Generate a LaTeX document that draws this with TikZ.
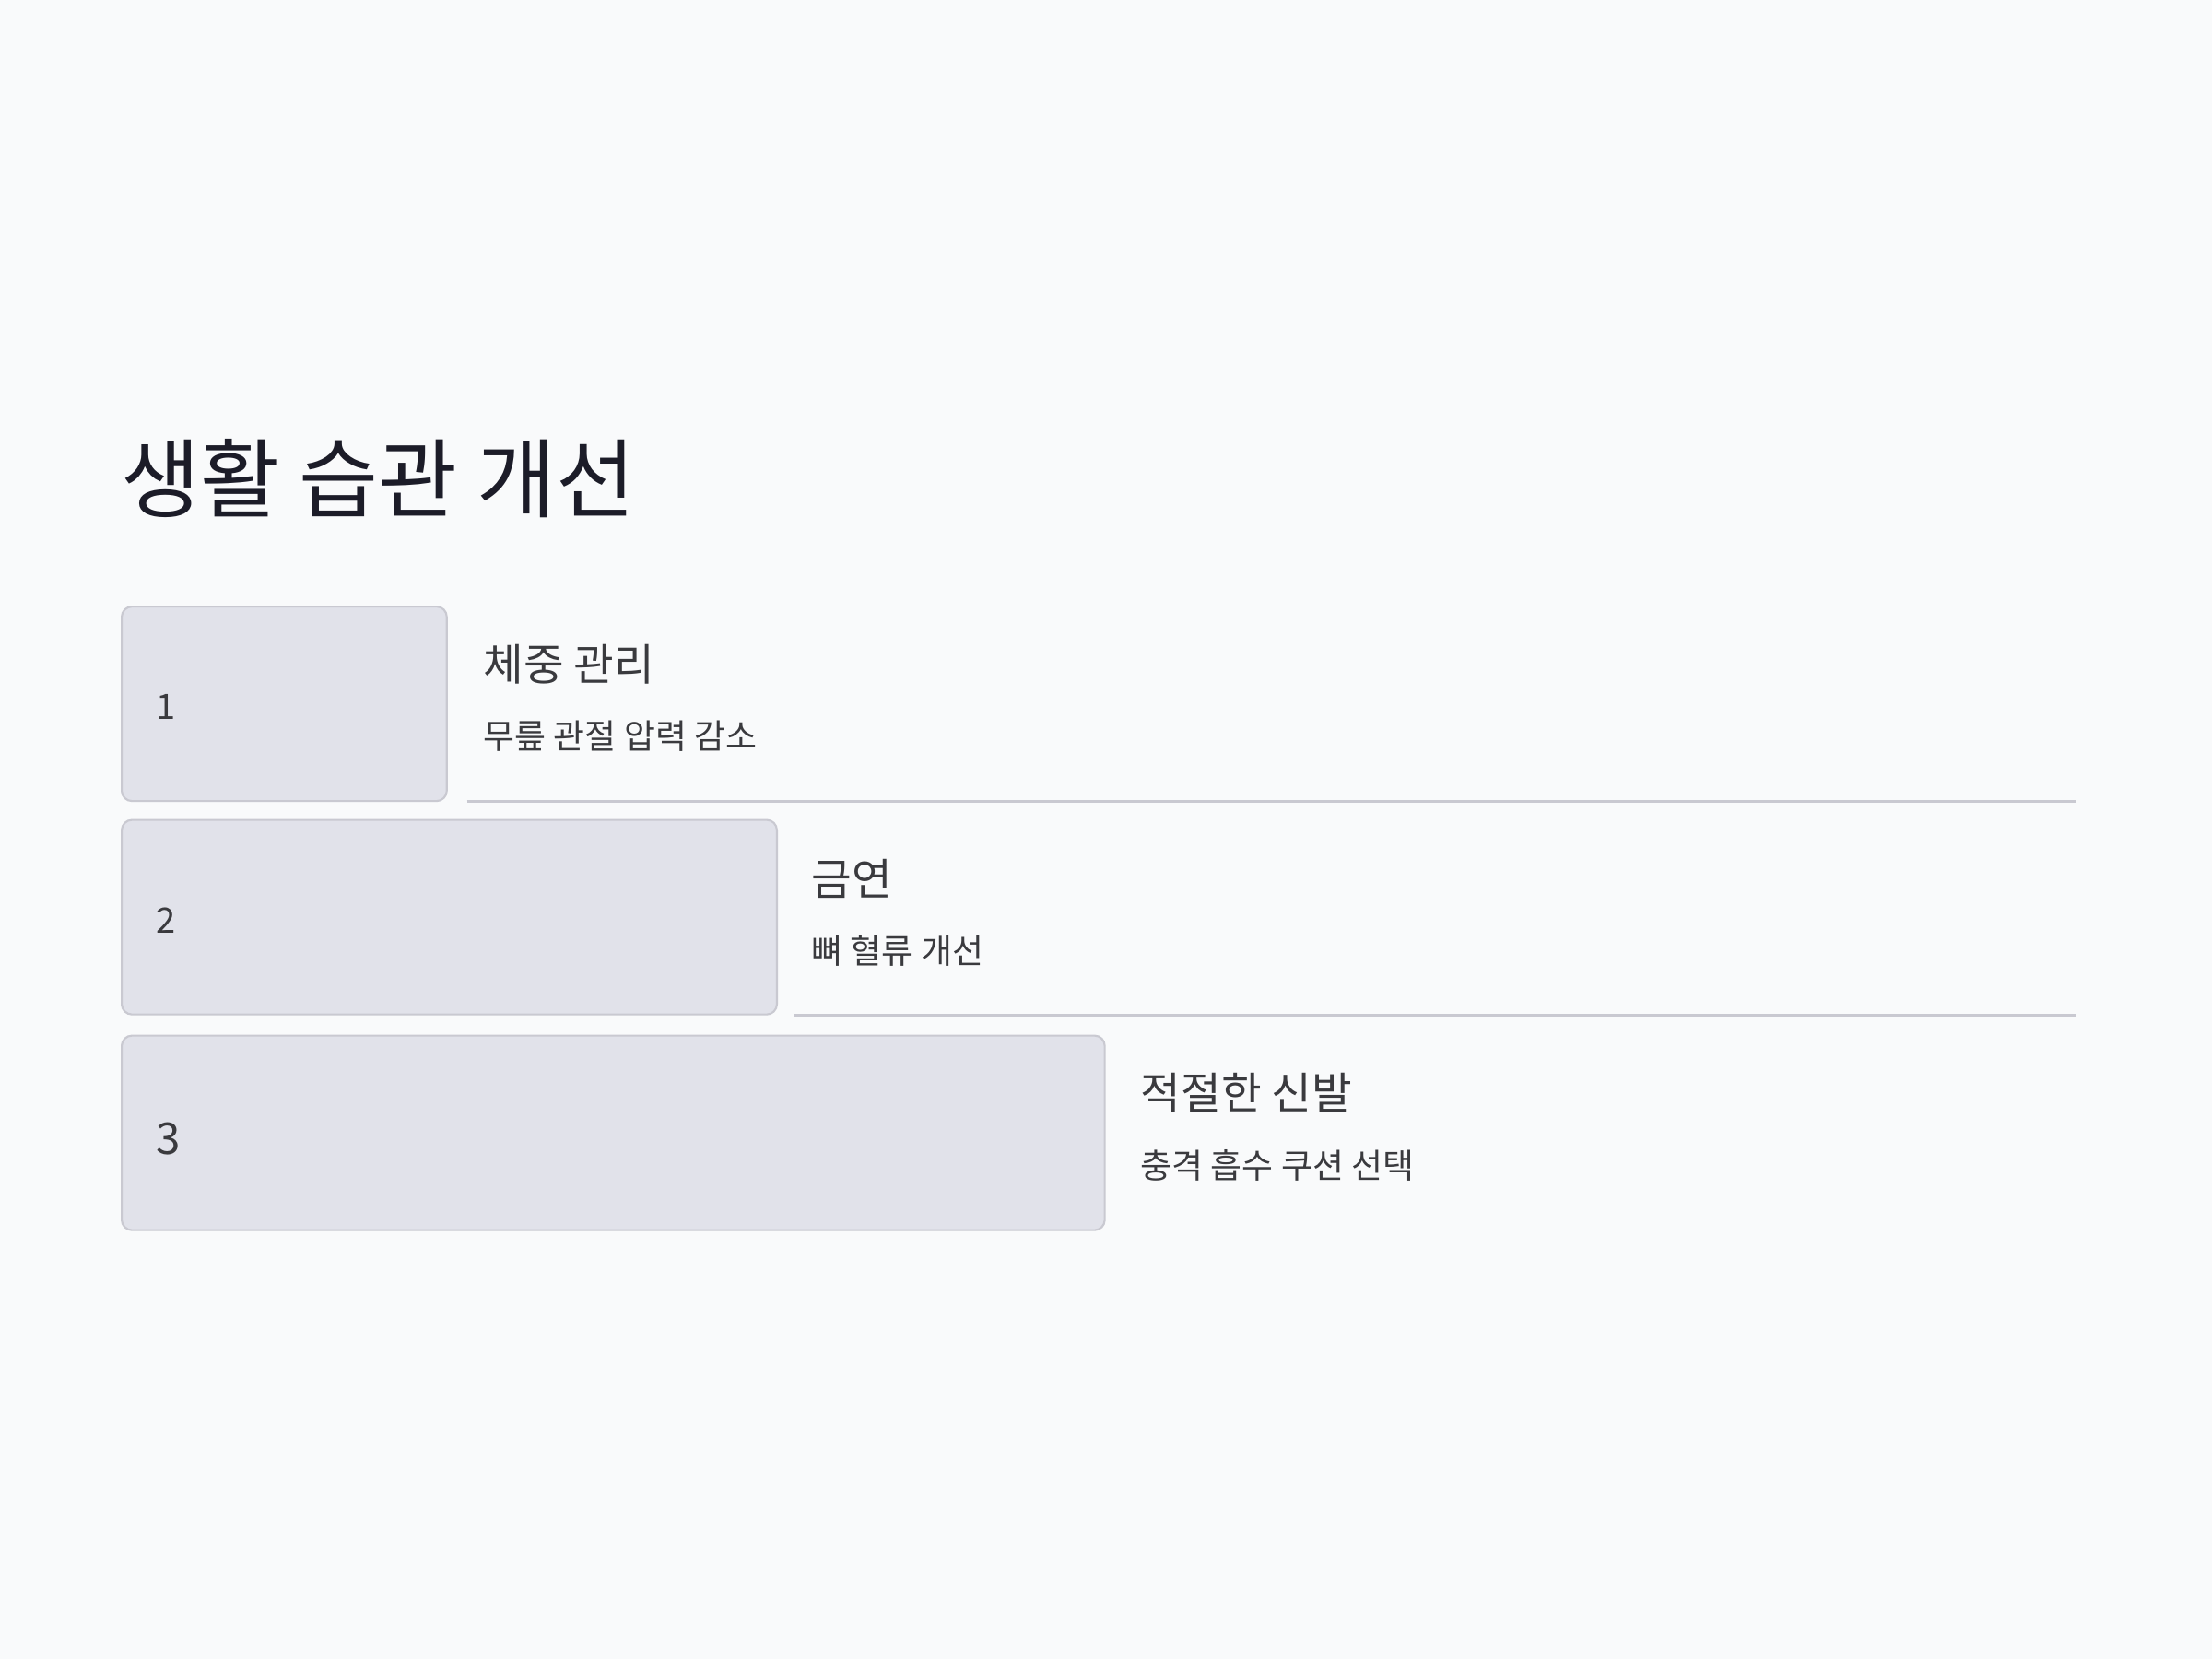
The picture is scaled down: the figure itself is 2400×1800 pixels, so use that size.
\documentclass[tikz,border=0pt]{standalone}
\usepackage{fontspec}
\setmainfont{Noto Sans CJK KR}
\definecolor{bgc}{HTML}{F9FAFB}
\definecolor{boxfill}{HTML}{E1E2EA}
\definecolor{boxline}{HTML}{C9C9D1}
\definecolor{titlec}{HTML}{1C1C28}
\definecolor{textc}{HTML}{3A3A3E}
\begin{document}
\begin{tikzpicture}[x=0.01cm,y=-0.01cm,
  stepbox/.style={draw=boxline, line width=0.6pt, fill=boxfill, rounded corners=3.2pt, anchor=north west, inner sep=0pt},
  numtext/.style={anchor=west, inner sep=0pt, text=textc},
  itemtitle/.style={anchor=west, inner sep=0pt, text=textc, font=\fontsize{13.5pt}{16pt}\selectfont},
  itemsub/.style={anchor=west, inner sep=0pt, text=textc, font=\fontsize{10.5pt}{13pt}\selectfont},
  divider/.style={draw=boxline, line width=0.85pt}]
\fill[bgc] (0,0) rectangle (2400,1800);
\useasboundingbox (0,0) rectangle (2400,1800);
\node[anchor=west, inner sep=0pt, text=titlec, font=\fontsize{26.6pt}{32pt}\selectfont] (title) at (131,519) {생활 습관 개선};

\node[stepbox, minimum width=3.525cm, minimum height=2.11cm] (b1) at (131,657) {};
\node[stepbox, minimum width=7.105cm, minimum height=2.11cm] (b2) at (131,888.5) {};
\node[stepbox, minimum width=10.66cm, minimum height=2.11cm] (b3) at (131,1122.5) {};

\node[numtext, font=\fontsize{10.8pt}{13pt}\selectfont] (n1) at (169,766.5) {1};
\node[numtext, font=\fontsize{10.8pt}{13pt}\selectfont] (n2) at (169,999) {2};
\node[numtext, font=\fontsize{13.5pt}{16pt}\selectfont] (n3) at (169,1236) {3};

\node[itemtitle] (t1) at (524,720.5) {체중 관리};
\node[itemsub] (s1) at (524,798.5) {무릎 관절 압력 감소};
\node[itemtitle] (t2) at (880,953.5) {금연};
\node[itemsub] (s2) at (880,1031.5) {뼈 혈류 개선};
\node[itemtitle] (t3) at (1237,1185.5) {적절한 신발};
\node[itemsub] (s3) at (1237,1264.5) {충격 흡수 쿠션 선택};

\coordinate (l1a) at (506.5,869.5);
\coordinate (l1b) at (2251.5,869.5);
\coordinate (l2a) at (861.5,1101);
\coordinate (l2b) at (2251.5,1101);
\draw[divider] (l1a) -- (l1b);
\draw[divider] (l2a) -- (l2b);
\end{tikzpicture}
\end{document}
